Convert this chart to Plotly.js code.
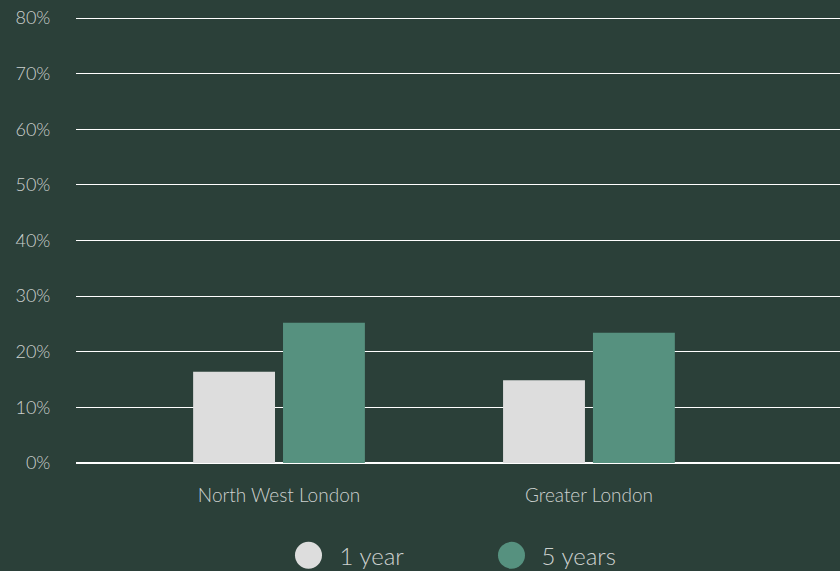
<!DOCTYPE html>
<html><head><meta charset="utf-8">
<script src="https://cdn.plot.ly/plotly-3.0.1.min.js"></script>
<style>html,body{margin:0;padding:0;background:#2b4039;}</style>
</head><body>
<div id="chart" style="width:840px;height:571px;"></div>
<script>
const categories = ["North West London", "Greater London"];
const seriesNames = ["1 year", "5 years"];
const oneYear = [16.4, 14.9];
const fiveYears = [25.2, 23.4];
const yTicks = [0, 10, 20, 30, 40, 50, 60, 70, 80];
const yTickLabels = ["0%", "10%", "20%", "30%", "40%", "50%", "60%", "70%", "80%"];
const colors = ["#dddddd", "#56917f"];
const bg = "#2b4039";
const textColor = "#cdd1cf";
const fontFam = "Lato, 'Open Sans', sans-serif";

const data = [
  {type: "bar", x: categories, y: oneYear, name: seriesNames[0], marker: {color: colors[0]}, showlegend: false, hoverinfo: "skip"},
  {type: "bar", x: categories, y: fiveYears, name: seriesNames[1], marker: {color: colors[1]}, showlegend: false, hoverinfo: "skip"},
  {type: "scatter", mode: "markers", x: [null], y: [null], name: seriesNames[0], marker: {color: "rgba(0,0,0,0)", size: 0, line: {width: 0}}, showlegend: true},
  {type: "scatter", mode: "markers", x: [null], y: [null], name: seriesNames[1], marker: {color: "rgba(0,0,0,0)", size: 0, line: {width: 0}}, showlegend: true}
];

// legend symbols (large circles, Plotly caps legend marker size)
const legendDotX = [0.3043, 0.570];
const shapes = colors.map((c, i) => ({
  type: "circle", xref: "paper", yref: "paper",
  xsizemode: "pixel", ysizemode: "pixel",
  xanchor: legendDotX[i], yanchor: -0.207,
  x0: -13.5, x1: 13.5, y0: -13.5, y1: 13.5,
  fillcolor: c, line: {width: 0}, layer: "above"
}));

const layout = {
  width: 840, height: 571,
  paper_bgcolor: bg, plot_bgcolor: bg,
  margin: {l: 76, r: 0, t: 17, b: 108, autoexpand: false},
  barmode: "group", bargap: 0.42, bargroupgap: 0.089,
  font: {family: fontFam, color: textColor, weight: 300},
  xaxis: {
    type: "category", range: [-0.655, 1.81],
    showgrid: false, zeroline: false, showline: false,
    ticks: "outside", ticklen: 15, tickcolor: "rgba(0,0,0,0)",
    tickfont: {size: 19, color: textColor, family: fontFam, weight: 300},
    fixedrange: true, automargin: false
  },
  yaxis: {
    range: [0, 80.2], tickvals: yTicks, ticktext: yTickLabels,
    showgrid: true, gridcolor: "#ffffff", gridwidth: 1,
    zeroline: true, zerolinecolor: "#ffffff", zerolinewidth: 2,
    showline: false,
    ticks: "outside", ticklen: 21, tickcolor: "rgba(0,0,0,0)",
    tickfont: {size: 18, color: textColor, family: fontFam, weight: 300},
    layer: "below traces", fixedrange: true, automargin: false
  },
  shapes: shapes,
  legend: {
    orientation: "h", x: 0.2926, xanchor: "left", y: -0.158, yanchor: "top",
    font: {size: 24, color: textColor, family: fontFam, weight: 300},
    itemwidth: 30, entrywidth: 157, entrywidthmode: "pixels",
    bgcolor: "rgba(0,0,0,0)"
  },
  showlegend: true
};

Plotly.newPlot("chart", data, layout, {displayModeBar: false, staticPlot: true});
</script>
</body></html>
